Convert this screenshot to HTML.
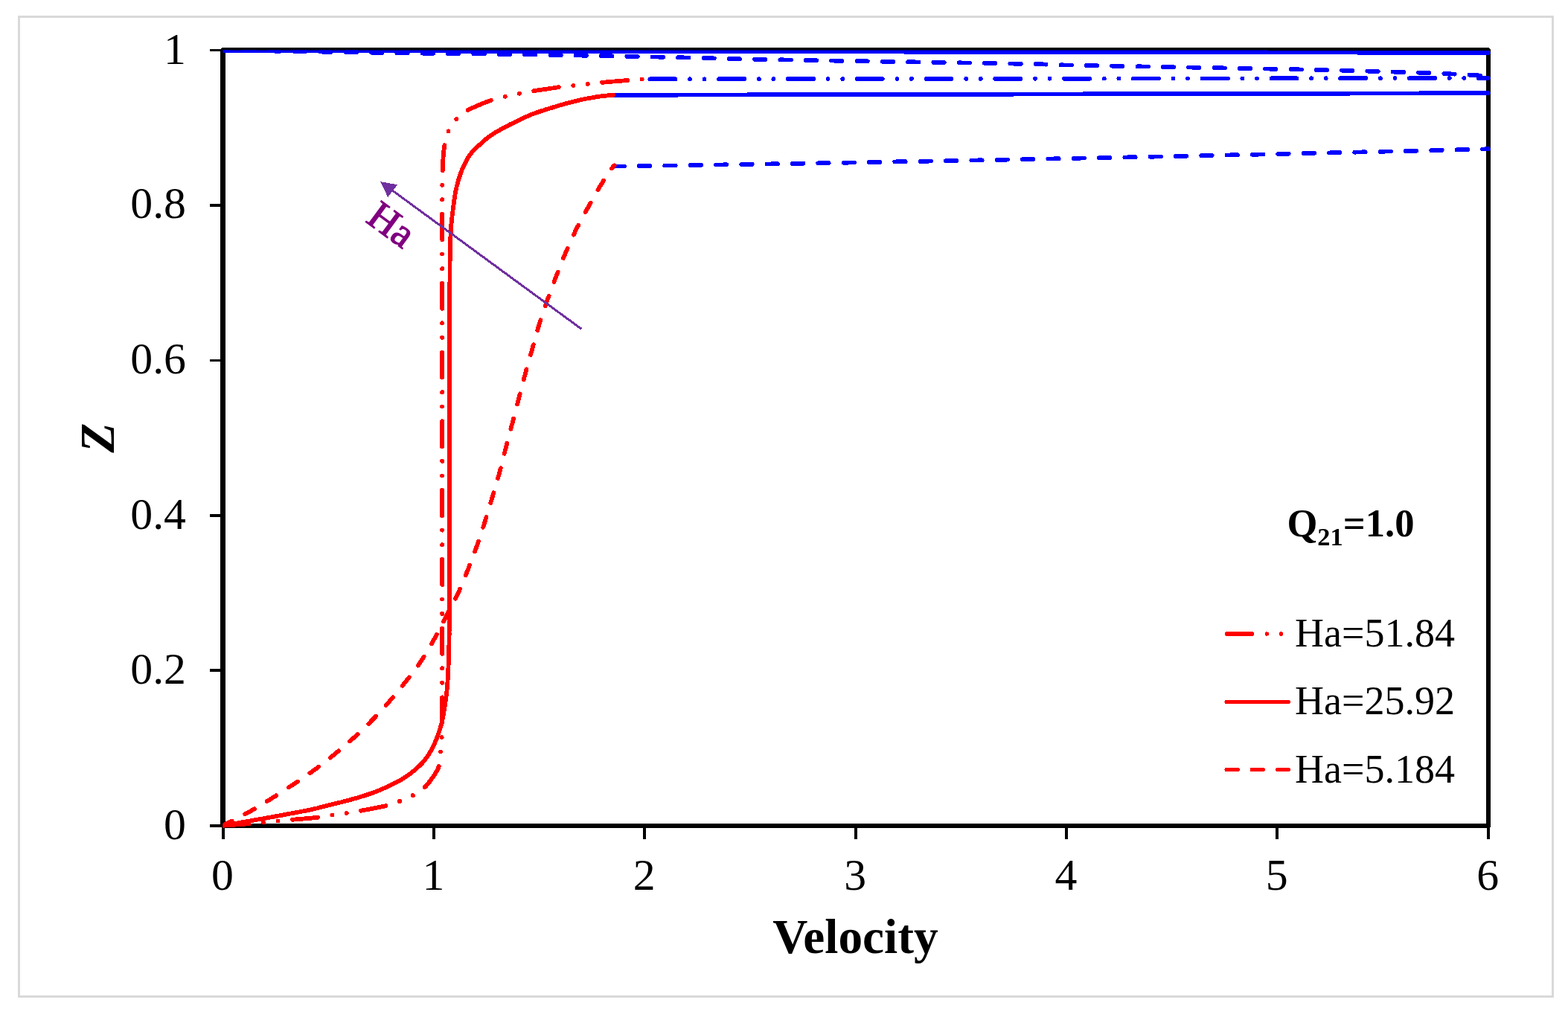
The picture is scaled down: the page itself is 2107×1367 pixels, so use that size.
<!DOCTYPE html>
<html lang="en"><head><meta charset="utf-8"><title>Velocity profile</title>
<style>html,body{margin:0;padding:0;background:#fff;overflow:hidden}svg{display:block}</style>
</head><body>
<svg width="2107" height="1367" viewBox="0 0 2107 1367" shape-rendering="crispEdges">
<rect x="0" y="0" width="2107" height="1367" fill="#fff"/>
<rect x="25.2" y="22.6" width="2061.4" height="1317" fill="none" stroke="#d9d9d9" stroke-width="3.3"/>
<defs><clipPath id="pc"><rect x="299.6" y="67.5" width="1703.1999999999998" height="1045.3"/></clipPath></defs>
<g stroke="#000" fill="none" stroke-linecap="butt">
<rect x="299.6" y="67.5" width="1700.1999999999998" height="1042.3" stroke-width="6.4" stroke-linejoin="round"/>
<line x1="299.6" y1="1109.8" x2="299.6" y2="1128.0" stroke-width="4.0"/>
<line x1="583.0" y1="1109.8" x2="583.0" y2="1128.0" stroke-width="4.0"/>
<line x1="866.3" y1="1109.8" x2="866.3" y2="1128.0" stroke-width="4.0"/>
<line x1="1149.7" y1="1109.8" x2="1149.7" y2="1128.0" stroke-width="4.0"/>
<line x1="1433.1" y1="1109.8" x2="1433.1" y2="1128.0" stroke-width="4.0"/>
<line x1="1716.4" y1="1109.8" x2="1716.4" y2="1128.0" stroke-width="4.0"/>
<line x1="1999.8" y1="1109.8" x2="1999.8" y2="1128.0" stroke-width="4.0"/>
<line x1="281.8" y1="1109.8" x2="299.6" y2="1109.8" stroke-width="3.8"/>
<line x1="281.8" y1="901.3" x2="299.6" y2="901.3" stroke-width="3.8"/>
<line x1="281.8" y1="692.9" x2="299.6" y2="692.9" stroke-width="3.8"/>
<line x1="281.8" y1="484.4" x2="299.6" y2="484.4" stroke-width="3.8"/>
<line x1="281.8" y1="276.0" x2="299.6" y2="276.0" stroke-width="3.8"/>
<line x1="281.8" y1="67.5" x2="299.6" y2="67.5" stroke-width="3.8"/>
</g>
<g fill="none" stroke-width="5.8" stroke-linecap="round" stroke-linejoin="round" clip-path="url(#pc)">
<path d="M299.6,68.1 L1999.8,70.9" stroke="#0000ff"/>
<path d="M299.6,67.5 L315.6,67.7 L336.7,68.1 L361.9,68.5 L390.1,68.9 L420.2,69.4 L451.0,69.9 L481.5,70.3 L510.6,70.8 L537.1,71.2 L560.0,71.5 L579.6,71.8 L597.3,72.0 L613.4,72.2 L628.3,72.3 L642.4,72.5 L656.0,72.6 L669.6,72.8 L683.4,73.0 L697.9,73.2 L713.5,73.4 L729.9,73.7 L746.8,74.0 L764.0,74.3 L781.3,74.6 L798.8,74.9 L816.3,75.2 L833.6,75.6 L850.8,75.9 L867.6,76.3 L884.0,76.6 L899.2,76.9 L912.7,77.2 L925.3,77.6 L937.5,77.9 L949.9,78.2 L963.2,78.5 L977.9,78.9 L994.6,79.3 L1014.0,79.7 L1036.6,80.1 L1064.0,80.6 L1096.5,81.2 L1132.7,81.8 L1171.2,82.4 L1210.5,83.1 L1249.5,83.7 L1286.6,84.3 L1320.4,84.9 L1349.7,85.4 L1373.0,85.8 L1389.1,86.1 L1398.9,86.3 L1403.8,86.5 L1405.5,86.6 L1405.4,86.7 L1405.2,86.7 L1406.4,86.8 L1410.5,87.0 L1419.1,87.2 L1433.7,87.5 L1454.8,87.9 L1480.9,88.4 L1511.0,89.0 L1543.9,89.6 L1578.4,90.2 L1613.5,90.8 L1648.0,91.5 L1680.8,92.1 L1710.7,92.7 L1736.6,93.2 L1759.3,93.7 L1780.4,94.2 L1800.0,94.6 L1818.1,95.1 L1835.0,95.5 L1850.8,96.0 L1865.6,96.4 L1879.4,96.8 L1892.5,97.2 L1904.9,97.6 L1916.4,98.0 L1926.6,98.4 L1935.7,98.8 L1943.9,99.1 L1951.2,99.5 L1957.7,99.8 L1963.7,100.2 L1969.1,100.5 L1974.2,100.7 L1979.0,101.0 L1983.3,101.2 L1986.9,101.4 L1989.8,101.6 L1992.2,101.8 L1994.0,102.0 L1995.5,102.1 L1996.8,102.2 L1997.8,102.3 L1998.8,102.4 L1999.8,102.5" stroke="#0000ff" stroke-dasharray="14.4 19.94" stroke-dashoffset="6.6"/>
<path d="M873.3,106.4 L1999.8,105.0" stroke="#0000ff" stroke-dasharray="34.2 19.53 0 19.53 0 19.53"/>
<path d="M824.6,127.8 L1999.8,125.2" stroke="#0000ff"/>
<path d="M824.6,223.6 L838.9,223.4 L856.9,223.1 L878.1,222.8 L901.9,222.5 L927.9,222.1 L955.4,221.7 L984.0,221.2 L1013.1,220.8 L1042.3,220.3 L1071.0,219.8 L1100.0,219.3 L1130.3,218.8 L1161.6,218.2 L1193.8,217.6 L1226.5,217.0 L1259.6,216.4 L1292.7,215.8 L1325.6,215.2 L1358.1,214.5 L1390.0,213.9 L1421.4,213.3 L1452.7,212.6 L1484.0,212.0 L1515.1,211.4 L1546.2,210.7 L1577.2,210.1 L1608.0,209.4 L1638.8,208.7 L1669.5,208.1 L1700.0,207.4 L1731.7,206.7 L1765.4,205.9 L1800.1,205.1 L1835.0,204.3 L1869.3,203.4 L1902.0,202.7 L1932.2,201.9 L1959.2,201.3 L1982.0,200.7 L1999.8,200.3" stroke="#0000ff" stroke-dasharray="14.4 19.94"/>
<path d="M299.6,1109.8 L301.8,1108.6 L304.7,1107.1 L308.2,1105.4 L312.1,1103.4 L316.2,1101.2 L320.5,1099.0 L324.8,1096.7 L329.0,1094.5 L333.0,1092.4 L336.5,1090.4 L339.7,1088.6 L342.8,1086.8 L345.9,1085.0 L348.8,1083.3 L351.6,1081.5 L354.5,1079.8 L357.3,1078.0 L360.1,1076.3 L362.9,1074.5 L365.8,1072.7 L368.7,1070.9 L371.6,1069.0 L374.6,1067.1 L377.5,1065.3 L380.4,1063.4 L383.3,1061.5 L386.2,1059.5 L389.1,1057.6 L392.0,1055.7 L394.9,1053.8 L397.8,1051.9 L400.6,1050.0 L403.5,1048.1 L406.3,1046.2 L409.1,1044.2 L411.9,1042.3 L414.8,1040.4 L417.6,1038.4 L420.3,1036.4 L423.1,1034.4 L425.9,1032.4 L428.6,1030.3 L431.3,1028.2 L434.0,1026.1 L436.8,1024.0 L439.4,1021.9 L442.1,1019.8 L444.8,1017.6 L447.5,1015.5 L450.1,1013.3 L452.7,1011.1 L455.4,1009.0 L458.0,1006.8 L460.6,1004.6 L463.1,1002.4 L465.7,1000.2 L468.3,998.0 L470.8,995.7 L473.4,993.5 L475.9,991.2 L478.4,988.9 L480.9,986.6 L483.4,984.3 L485.9,981.9 L488.4,979.5 L490.9,977.2 L493.3,974.8 L495.8,972.4 L498.2,969.9 L500.6,967.5 L503.0,965.0 L505.3,962.6 L507.7,960.1 L510.0,957.6 L512.3,955.1 L514.6,952.6 L516.9,950.0 L519.2,947.5 L521.4,944.9 L523.7,942.3 L526.0,939.7 L528.2,937.0 L530.5,934.3 L532.7,931.6 L535.0,928.8 L537.2,926.1 L539.4,923.3 L541.6,920.6 L543.7,917.9 L545.8,915.3 L547.8,912.7 L549.9,910.2 L551.8,907.7 L553.8,905.3 L555.7,902.8 L557.6,900.3 L559.5,897.8 L561.3,895.2 L563.2,892.6 L565.1,889.8 L567.0,886.9 L568.9,883.9 L570.8,880.9 L572.7,877.7 L574.6,874.5 L576.5,871.4 L578.3,868.2 L580.1,865.0 L581.9,861.9 L583.6,858.8 L585.3,855.8 L586.9,852.8 L588.4,849.9 L589.9,847.0 L591.5,844.0 L592.9,841.1 L594.4,838.2 L595.9,835.3 L597.4,832.3 L599.0,829.3 L600.6,826.3 L602.2,823.2 L603.9,820.1 L605.5,817.1 L607.2,814.0 L608.8,810.8 L610.4,807.7 L612.0,804.6 L613.6,801.4 L615.1,798.3 L616.6,795.1 L618.0,792.0 L619.4,788.8 L620.7,785.6 L622.0,782.4 L623.4,779.1 L624.7,775.9 L625.9,772.7 L627.2,769.5 L628.5,766.3 L629.8,763.1 L631.0,759.9 L632.3,756.7 L633.5,753.6 L634.7,750.4 L635.9,747.2 L637.1,744.0 L638.3,740.8 L639.4,737.6 L640.6,734.4 L641.7,731.2 L642.9,727.9 L644.0,724.7 L645.1,721.4 L646.2,718.1 L647.2,714.8 L648.3,711.6 L649.3,708.3 L650.4,705.0 L651.4,701.8 L652.4,698.6 L653.4,695.4 L654.4,692.2 L655.4,689.0 L656.3,685.8 L657.3,682.7 L658.2,679.5 L659.2,676.3 L660.1,673.0 L661.1,669.8 L662.1,666.5 L663.1,663.3 L664.0,660.0 L665.0,656.6 L666.0,653.3 L667.0,650.0 L668.0,646.7 L668.9,643.3 L669.9,640.0 L670.8,636.7 L671.7,633.4 L672.6,630.1 L673.4,626.8 L674.3,623.5 L675.1,620.2 L675.9,616.8 L676.8,613.5 L677.6,610.2 L678.4,606.9 L679.3,603.6 L680.2,600.3 L681.0,597.0 L681.9,593.7 L682.8,590.4 L683.6,587.0 L684.5,583.7 L685.4,580.4 L686.3,577.1 L687.1,573.8 L688.0,570.5 L688.9,567.2 L689.7,563.9 L690.6,560.6 L691.4,557.3 L692.3,554.1 L693.1,550.8 L694.0,547.5 L694.9,544.2 L695.7,540.8 L696.6,537.5 L697.5,534.1 L698.4,530.8 L699.2,527.3 L700.1,523.9 L701.0,520.5 L701.9,517.1 L702.8,513.7 L703.7,510.3 L704.6,506.9 L705.5,503.6 L706.4,500.3 L707.3,497.0 L708.2,493.8 L709.1,490.6 L710.0,487.4 L710.9,484.2 L711.9,481.0 L712.8,477.8 L713.7,474.5 L714.6,471.3 L715.5,468.0 L716.4,464.8 L717.3,461.5 L718.2,458.2 L719.1,454.9 L720.0,451.6 L720.9,448.3 L721.9,445.0 L722.8,441.8 L723.8,438.5 L724.8,435.2 L725.8,432.0 L726.9,428.8 L727.9,425.5 L729.0,422.3 L730.1,419.1 L731.2,415.9 L732.3,412.7 L733.4,409.4 L734.5,406.2 L735.6,403.0 L736.8,399.7 L738.0,396.5 L739.1,393.3 L740.3,390.0 L741.5,386.8 L742.7,383.6 L744.0,380.3 L745.2,377.1 L746.4,373.9 L747.6,370.7 L748.9,367.5 L750.1,364.3 L751.3,361.1 L752.6,357.9 L753.8,354.7 L755.1,351.6 L756.4,348.4 L757.7,345.2 L759.0,342.1 L760.3,339.0 L761.7,335.8 L763.0,332.7 L764.4,329.6 L765.8,326.4 L767.2,323.3 L768.6,320.2 L770.1,317.1 L771.5,314.1 L773.0,311.0 L774.5,308.0 L776.0,304.9 L777.6,302.0 L779.2,299.0 L780.8,296.0 L782.4,293.0 L784.0,290.1 L785.6,287.1 L787.2,284.1 L788.9,281.1 L790.6,278.1 L792.3,275.0 L794.0,271.9 L795.7,268.7 L797.5,265.6 L799.2,262.5 L801.0,259.5 L802.7,256.5 L804.4,253.6 L806.1,250.8 L807.8,248.0 L809.6,245.2 L811.4,242.3 L813.2,239.5 L815.0,236.8 L816.7,234.3 L818.3,231.9 L819.8,229.7 L821.1,227.8 L822.2,226.2 L823.1,225.0 L823.7,224.1 L824.2,223.4 L824.6,223.0 L824.9,222.8 L825.0,222.7 L825.2,222.7 L825.3,222.7 L825.4,222.6 L825.5,222.5" stroke="#ff0000" stroke-dasharray="14.4 19.94" stroke-dashoffset="0.8"/>
<path d="M299.6,1109.8 L302.9,1109.2 L307.2,1108.5 L312.2,1107.6 L317.9,1106.6 L324.0,1105.5 L330.4,1104.4 L336.8,1103.3 L343.1,1102.1 L349.0,1101.1 L354.5,1100.1 L359.8,1099.2 L365.1,1098.2 L370.5,1097.2 L375.9,1096.2 L381.1,1095.3 L386.2,1094.3 L391.0,1093.4 L395.4,1092.6 L399.5,1091.9 L403.0,1091.2 L405.9,1090.6 L408.3,1090.2 L410.2,1089.8 L411.8,1089.6 L413.1,1089.3 L414.3,1089.1 L415.5,1088.8 L416.7,1088.5 L418.2,1088.2 L420.0,1087.8 L422.0,1087.3 L424.2,1086.8 L426.4,1086.3 L428.7,1085.7 L431.0,1085.1 L433.4,1084.5 L435.8,1083.9 L438.1,1083.3 L440.5,1082.7 L442.8,1082.1 L445.1,1081.5 L447.4,1081.0 L449.6,1080.4 L451.9,1079.9 L454.2,1079.3 L456.5,1078.7 L458.8,1078.2 L461.0,1077.6 L463.3,1077.0 L465.6,1076.4 L467.9,1075.8 L470.2,1075.2 L472.5,1074.5 L474.8,1073.9 L477.1,1073.3 L479.3,1072.6 L481.6,1071.9 L483.9,1071.2 L486.2,1070.5 L488.5,1069.8 L490.8,1069.1 L493.1,1068.3 L495.3,1067.5 L497.6,1066.8 L499.9,1066.0 L502.2,1065.2 L504.5,1064.3 L506.7,1063.4 L509.0,1062.5 L511.3,1061.6 L513.6,1060.6 L516.0,1059.5 L518.5,1058.4 L521.0,1057.2 L523.4,1056.1 L525.8,1054.9 L528.1,1053.8 L530.3,1052.7 L532.3,1051.6 L534.1,1050.7 L535.7,1049.9 L537.1,1049.1 L538.4,1048.4 L539.5,1047.8 L540.5,1047.2 L541.5,1046.6 L542.4,1045.9 L543.4,1045.3 L544.4,1044.6 L545.5,1043.9 L546.6,1043.1 L547.8,1042.3 L548.9,1041.5 L550.1,1040.7 L551.2,1039.9 L552.3,1039.0 L553.5,1038.1 L554.6,1037.2 L555.8,1036.3 L556.9,1035.3 L558.1,1034.3 L559.3,1033.3 L560.5,1032.2 L561.7,1031.1 L562.9,1030.0 L564.1,1028.9 L565.2,1027.8 L566.3,1026.7 L567.4,1025.6 L568.4,1024.5 L569.3,1023.4 L570.2,1022.3 L571.1,1021.2 L571.9,1020.1 L572.7,1019.0 L573.5,1017.9 L574.2,1016.8 L574.9,1015.7 L575.6,1014.7 L576.3,1013.6 L577.0,1012.6 L577.6,1011.5 L578.2,1010.5 L578.8,1009.5 L579.4,1008.5 L580.0,1007.5 L580.5,1006.5 L581.1,1005.4 L581.6,1004.4 L582.1,1003.4 L582.6,1002.4 L583.1,1001.3 L583.6,1000.3 L584.0,999.2 L584.5,998.2 L584.9,997.1 L585.4,996.1 L585.8,995.1 L586.2,994.0 L586.6,993.0 L587.0,992.0 L587.4,991.0 L587.8,990.0 L588.1,989.0 L588.5,988.1 L588.8,987.1 L589.2,986.1 L589.5,985.1 L589.9,984.1 L590.2,983.0 L590.6,981.9 L590.9,980.8 L591.3,979.7 L591.6,978.6 L592.0,977.4 L592.3,976.2 L592.6,975.1 L593.0,973.9 L593.3,972.6 L593.6,971.4 L593.9,970.1 L594.2,968.9 L594.5,967.6 L594.7,966.3 L595.0,965.0 L595.3,963.7 L595.5,962.3 L595.8,960.9 L596.0,959.5 L596.3,958.0 L596.6,956.4 L596.8,954.8 L597.1,953.1 L597.3,951.4 L597.6,949.6 L597.8,947.9 L598.1,946.1 L598.3,944.3 L598.6,942.6 L598.8,941.0 L599.0,939.4 L599.2,938.0 L599.5,936.5 L599.7,935.1 L599.9,933.7 L600.1,932.3 L600.3,930.8 L600.4,929.2 L600.6,927.5 L600.8,925.7 L601.0,923.7 L601.1,921.6 L601.3,919.4 L601.4,917.1 L601.6,914.7 L601.7,912.3 L601.8,909.9 L602.0,907.5 L602.1,905.1 L602.2,902.8 L602.3,900.5 L602.4,898.3 L602.5,896.2 L602.6,894.0 L602.7,891.8 L602.8,889.6 L602.9,887.4 L603.0,885.0 L603.0,882.6 L603.1,880.0 L603.2,877.4 L603.2,874.8 L603.3,872.2 L603.3,869.5 L603.4,866.7 L603.4,863.8 L603.5,860.7 L603.5,857.4 L603.6,853.8 L603.6,850.0 L603.7,846.0 L603.7,842.1 L603.8,838.0 L603.8,833.8 L603.9,829.4 L603.9,824.6 L604.0,819.3 L604.0,813.5 L604.1,807.1 L604.1,800.0 L604.1,792.2 L604.1,783.8 L604.1,774.9 L604.1,765.5 L604.1,755.6 L604.1,745.3 L604.1,734.5 L604.1,723.4 L604.1,711.8 L604.1,700.0 L604.1,687.4 L604.1,673.9 L604.1,659.7 L604.1,645.0 L604.1,630.0 L604.1,615.0 L604.1,600.3 L604.1,586.1 L604.1,572.6 L604.1,560.0 L604.1,548.4 L604.1,537.6 L604.1,527.3 L604.1,517.5 L604.1,507.9 L604.1,498.6 L604.1,489.3 L604.1,479.8 L604.1,470.1 L604.1,460.0 L604.1,449.3 L604.2,438.0 L604.2,426.3 L604.2,414.5 L604.3,402.8 L604.3,391.3 L604.4,380.4 L604.5,370.2 L604.5,361.0 L604.6,353.0 L604.7,346.2 L604.8,340.3 L604.9,335.3 L605.0,331.0 L605.1,327.3 L605.2,324.0 L605.3,321.0 L605.4,318.2 L605.6,315.5 L605.7,312.6 L605.8,309.8 L606.0,307.4 L606.1,305.2 L606.3,303.3 L606.4,301.6 L606.6,300.0 L606.7,298.5 L606.9,297.0 L607.0,295.5 L607.2,294.0 L607.3,292.5 L607.5,291.1 L607.6,289.8 L607.8,288.6 L607.9,287.4 L608.1,286.3 L608.2,285.1 L608.4,283.9 L608.5,282.6 L608.7,281.3 L608.9,279.9 L609.1,278.4 L609.3,276.9 L609.5,275.4 L609.7,273.8 L609.9,272.3 L610.1,270.7 L610.3,269.1 L610.6,267.6 L610.8,266.1 L611.0,264.6 L611.3,263.1 L611.5,261.7 L611.8,260.2 L612.0,258.8 L612.3,257.3 L612.6,255.9 L612.8,254.4 L613.2,253.0 L613.5,251.5 L613.9,250.0 L614.3,248.5 L614.7,246.9 L615.1,245.4 L615.5,243.8 L616.0,242.3 L616.4,240.8 L616.9,239.3 L617.3,237.9 L617.8,236.5 L618.2,235.2 L618.7,233.9 L619.1,232.7 L619.6,231.5 L620.1,230.3 L620.5,229.1 L621.0,228.0 L621.5,226.8 L622.0,225.7 L622.5,224.5 L623.0,223.3 L623.6,222.2 L624.1,221.0 L624.6,219.8 L625.2,218.7 L625.8,217.5 L626.3,216.4 L627.0,215.3 L627.6,214.1 L628.3,213.0 L629.0,211.9 L629.7,210.7 L630.5,209.6 L631.3,208.5 L632.1,207.4 L632.9,206.3 L633.8,205.2 L634.7,204.1 L635.6,203.0 L636.5,202.0 L637.5,201.0 L638.4,200.0 L639.5,199.0 L640.5,198.0 L641.6,197.1 L642.7,196.1 L643.8,195.2 L644.8,194.3 L645.9,193.3 L647.0,192.4 L648.0,191.5 L649.0,190.6 L650.0,189.7 L651.0,188.8 L652.0,187.9 L653.0,187.0 L654.1,186.1 L655.3,185.2 L656.5,184.3 L657.8,183.3 L659.2,182.3 L660.8,181.3 L662.4,180.2 L664.1,179.2 L665.8,178.1 L667.5,177.0 L669.3,176.0 L671.1,175.0 L672.8,174.0 L674.5,173.0 L676.1,172.1 L677.8,171.2 L679.3,170.4 L680.9,169.6 L682.5,168.8 L684.1,168.0 L685.8,167.1 L687.6,166.3 L689.4,165.4 L691.3,164.5 L693.3,163.5 L695.5,162.5 L697.7,161.4 L700.0,160.3 L702.3,159.2 L704.7,158.0 L707.1,156.9 L709.4,155.9 L711.8,154.9 L714.1,153.9 L716.4,153.0 L718.7,152.2 L720.9,151.3 L723.2,150.6 L725.5,149.8 L727.8,149.1 L730.1,148.4 L732.3,147.6 L734.6,146.9 L736.9,146.2 L739.2,145.5 L741.5,144.8 L743.8,144.1 L746.1,143.4 L748.3,142.7 L750.6,142.0 L752.9,141.3 L755.2,140.7 L757.5,140.0 L759.8,139.4 L762.1,138.8 L764.4,138.2 L766.6,137.6 L768.9,137.0 L771.2,136.4 L773.5,135.8 L775.8,135.3 L778.0,134.7 L780.3,134.2 L782.6,133.7 L784.9,133.2 L787.2,132.8 L789.6,132.3 L791.9,131.9 L794.2,131.5 L796.6,131.1 L798.8,130.7 L801.1,130.3 L803.3,130.0 L805.4,129.7 L807.5,129.4 L809.7,129.1 L812.0,128.9 L814.1,128.7 L816.3,128.4 L818.3,128.3 L820.1,128.1 L821.8,127.9 L823.2,127.8 L824.3,127.7" stroke="#ff0000"/>
<path d="M299.6,1109.8 L303.0,1109.5 L307.5,1109.2 L312.9,1108.8 L319.0,1108.4 L325.4,1107.9 L332.0,1107.4 L338.3,1106.9 L344.2,1106.5 L349.5,1106.0 L353.7,1105.7 L357.1,1105.4 L359.8,1105.1 L362.1,1104.9 L364.0,1104.7 L365.7,1104.5 L367.1,1104.3 L368.5,1104.1 L369.9,1104.0 L371.4,1103.8 L373.1,1103.6 L374.9,1103.4 L376.4,1103.3 L377.9,1103.1 L379.4,1103.0 L380.8,1102.9 L382.4,1102.8 L384.1,1102.6 L386.1,1102.4 L388.3,1102.2 L390.9,1102.0 L394.0,1101.7 L397.6,1101.4 L401.5,1101.1 L405.7,1100.7 L410.1,1100.3 L414.4,1099.9 L418.6,1099.6 L422.5,1099.2 L426.1,1098.8 L429.1,1098.5 L431.6,1098.2 L433.8,1097.9 L435.6,1097.6 L437.2,1097.3 L438.6,1097.1 L440.0,1096.8 L441.3,1096.5 L442.7,1096.2 L444.2,1096.0 L445.9,1095.7 L447.8,1095.4 L449.7,1095.2 L451.8,1094.9 L453.8,1094.6 L455.9,1094.4 L458.0,1094.1 L460.0,1093.8 L462.0,1093.6 L464.0,1093.3 L465.9,1093.0 L467.6,1092.7 L469.1,1092.5 L470.5,1092.3 L471.9,1092.1 L473.2,1091.8 L474.7,1091.6 L476.3,1091.3 L478.1,1091.0 L480.3,1090.6 L482.8,1090.1 L485.8,1089.5 L489.3,1088.9 L493.2,1088.2 L497.4,1087.4 L501.6,1086.6 L505.9,1085.8 L510.0,1084.9 L513.9,1084.1 L517.4,1083.4 L520.4,1082.7 L522.9,1082.1 L525.0,1081.5 L526.9,1080.9 L528.4,1080.4 L529.9,1079.9 L531.2,1079.4 L532.5,1078.8 L533.8,1078.3 L535.3,1077.7 L536.9,1077.0 L538.7,1076.3 L540.5,1075.6 L542.3,1074.9 L544.2,1074.1 L546.0,1073.3 L547.9,1072.5 L549.7,1071.7 L551.6,1070.9 L553.3,1070.0 L555.0,1069.1 L556.6,1068.2 L558.3,1067.2 L559.9,1066.3 L561.5,1065.3 L563.0,1064.2 L564.5,1063.2 L566.0,1062.2 L567.4,1061.1 L568.7,1060.0 L570.0,1058.9 L571.2,1057.8 L572.4,1056.6 L573.5,1055.4 L574.6,1054.1 L575.6,1052.9 L576.5,1051.6 L577.5,1050.4 L578.3,1049.2 L579.2,1048.1 L580.0,1047.0 L580.8,1046.0 L581.5,1045.0 L582.2,1044.1 L582.8,1043.2 L583.4,1042.4 L583.9,1041.5 L584.5,1040.7 L585.0,1039.8 L585.5,1038.9 L586.0,1038.0 L586.5,1037.1 L587.0,1036.2 L587.4,1035.4 L587.9,1034.6 L588.3,1033.7 L588.7,1032.8 L589.1,1031.8 L589.4,1030.8 L589.8,1029.6 L590.1,1028.3 L590.4,1026.8 L590.6,1025.2 L590.9,1023.5 L591.1,1021.7 L591.3,1019.9 L591.4,1017.9 L591.6,1016.0 L591.8,1014.0 L591.9,1012.1 L592.1,1010.2 L592.3,1008.3 L592.5,1006.4 L592.6,1004.4 L592.8,1002.4 L593.0,1000.5 L593.2,998.5 L593.3,996.5 L593.5,994.5 L593.6,992.6 L593.7,990.7 L593.8,988.9 L593.9,987.3 L593.9,985.8 L594.0,984.3 L594.0,982.8 L594.0,981.2 L594.0,979.4 L594.1,977.5 L594.1,975.2 L594.1,972.6 L594.1,970.0 L594.1,967.8 L594.1,965.7 L594.1,963.5 L594.1,960.9 L594.1,957.8 L594.1,953.8 L594.1,948.8 L594.1,942.5 L594.1,934.7 L594.1,925.4 L594.1,915.0 L594.1,903.5 L594.1,890.9 L594.1,877.5 L594.1,863.2 L594.1,848.3 L594.1,832.7 L594.1,816.6 L594.1,800.0 L594.1,782.6 L594.1,764.2 L594.1,744.8 L594.1,724.7 L594.1,704.1 L594.1,683.1 L594.1,662.1 L594.1,641.0 L594.1,620.3 L594.1,600.0 L594.1,579.7 L594.1,558.9 L594.1,537.8 L594.1,516.6 L594.1,495.6 L594.1,475.0 L594.1,454.9 L594.1,435.5 L594.1,417.2 L594.1,400.0 L594.1,383.7 L594.1,367.8 L594.1,352.4 L594.1,337.8 L594.1,323.8 L594.1,310.8 L594.1,298.8 L594.1,287.9 L594.1,278.3 L594.1,270.0 L594.1,263.4 L594.1,258.7 L594.1,255.4 L594.2,253.3 L594.2,252.2 L594.2,251.5 L594.2,251.2 L594.3,250.7 L594.3,250.0 L594.3,248.5 L594.3,246.7 L594.3,244.9 L594.4,243.2 L594.4,241.6 L594.4,240.0 L594.4,238.5 L594.5,236.9 L594.5,235.3 L594.5,233.7 L594.6,232.0 L594.7,230.3 L594.7,228.5 L594.8,226.8 L594.8,225.0 L594.9,223.2 L595.0,221.4 L595.0,219.6 L595.1,217.7 L595.3,215.9 L595.4,214.0 L595.5,212.1 L595.7,210.1 L595.9,208.2 L596.0,206.2 L596.2,204.2 L596.4,202.2 L596.7,200.2 L596.9,198.2 L597.3,196.2 L597.6,194.3 L598.0,192.4 L598.4,190.5 L598.8,188.6 L599.2,186.7 L599.7,184.9 L600.2,183.0 L600.7,181.2 L601.4,179.4 L602.0,177.6 L602.8,175.9 L603.6,174.2 L604.5,172.5 L605.5,170.8 L606.5,169.2 L607.5,167.5 L608.6,165.9 L609.7,164.4 L610.9,162.9 L612.1,161.4 L613.4,160.0 L614.6,158.7 L615.8,157.4 L617.0,156.2 L618.1,155.1 L619.4,154.0 L620.8,152.9 L622.3,151.8 L624.0,150.7 L625.9,149.5 L628.1,148.3 L630.7,147.0 L633.7,145.5 L636.9,144.1 L640.4,142.5 L644.0,141.0 L647.6,139.5 L651.2,138.1 L654.5,136.8 L657.6,135.6 L660.4,134.6 L662.8,133.7 L665.0,133.0 L666.9,132.5 L668.7,132.0 L670.4,131.5 L672.1,131.2 L673.7,130.8 L675.4,130.5 L677.1,130.1 L678.9,129.7 L680.8,129.3 L682.7,128.8 L684.7,128.4 L686.7,128.0 L688.6,127.6 L690.6,127.2 L692.6,126.8 L694.6,126.5 L696.5,126.1 L698.5,125.7 L700.4,125.3 L702.2,125.0 L703.9,124.6 L705.6,124.3 L707.4,124.0 L709.2,123.6 L711.1,123.3 L713.2,122.9 L715.5,122.5 L718.1,122.1 L721.0,121.6 L724.3,121.1 L727.8,120.6 L731.5,120.0 L735.3,119.5 L739.1,118.9 L742.8,118.4 L746.3,117.9 L749.5,117.4 L752.4,117.0 L754.9,116.7 L757.1,116.4 L759.1,116.1 L761.0,115.9 L762.7,115.8 L764.3,115.6 L765.9,115.4 L767.5,115.3 L769.3,115.1 L771.1,114.9 L773.0,114.7 L775.0,114.5 L777.0,114.3 L778.9,114.1 L780.9,113.8 L782.9,113.6 L784.9,113.4 L786.9,113.2 L788.9,113.0 L790.8,112.8 L792.7,112.6 L794.4,112.4 L796.1,112.2 L797.7,112.0 L799.4,111.8 L801.1,111.7 L803.0,111.5 L805.0,111.3 L807.3,111.0 L809.8,110.8 L812.7,110.5 L815.9,110.3 L819.5,109.9 L823.2,109.6 L827.0,109.3 L830.8,109.0 L834.6,108.7 L838.1,108.4 L841.4,108.1 L844.3,107.9 L846.9,107.7 L849.5,107.5 L851.8,107.3 L854.1,107.2 L856.1,107.0 L858.0,106.9 L859.8,106.8 L861.3,106.7 L862.7,106.6 L863.9,106.5 L864.8,106.4 L865.5,106.4 L865.9,106.4 L866.1,106.4 L866.2,106.4 L866.2,106.4 L866.1,106.4 L866.0,106.4 L866.0,106.4 L866.0,106.4" stroke="#ff0000" stroke-dasharray="34.2 19.53 0 19.53 0 19.53" stroke-dashoffset="-1"/>
</g>
<line x1="781.3" y1="442.2" x2="524" y2="253.6" stroke="#7030a0" stroke-width="3.0"/>
<polygon points="511.3,244.2 534.1,248.3 521.2,265.1" fill="#7030a0"/>
<g fill="none" stroke="#ff0000" stroke-width="5.4" stroke-linecap="round">
<path d="M1648.2,852.0 L1731.3,852.0" stroke-dasharray="34.6 19.4 0 19.4 0 19.4"/>
<path d="M1648.2,943.5 L1731.3,943.5"/>
<path d="M1648.2,1034.5 L1731.3,1034.5" stroke-dasharray="14.8 19.54"/>
</g>
<g font-family="'Liberation Serif', serif" font-size="59.8" fill="#000">
<text x="299.0" y="1196.4" text-anchor="middle">0</text>
<text x="582.4" y="1196.4" text-anchor="middle">1</text>
<text x="865.7" y="1196.4" text-anchor="middle">2</text>
<text x="1149.1" y="1196.4" text-anchor="middle">3</text>
<text x="1432.5" y="1196.4" text-anchor="middle">4</text>
<text x="1715.8" y="1196.4" text-anchor="middle">5</text>
<text x="1999.2" y="1196.4" text-anchor="middle">6</text>
<text x="250" y="1127.8" text-anchor="end">0</text>
<text x="250" y="919.3" text-anchor="end">0.2</text>
<text x="250" y="710.5" text-anchor="end">0.4</text>
<text x="250" y="501.8" text-anchor="end">0.6</text>
<text x="250" y="293.0" text-anchor="end">0.8</text>
<text x="250" y="86.1" text-anchor="end">1</text>
</g>
<g font-family="'Liberation Serif', serif" font-size="54" fill="#000">
<text x="1740.1" y="869.2">Ha=51.84</text>
<text x="1740.1" y="960.1">Ha=25.92</text>
<text x="1740.1" y="1052.1">Ha=5.184</text>
</g>
<text font-family="'Liberation Serif', serif" font-size="65.3" font-weight="bold" x="1149.4" y="1281.4" text-anchor="middle">Velocity</text>
<text font-family="'Liberation Serif', serif" font-size="65.3" font-weight="bold" font-style="italic" transform="translate(153,588.5) rotate(-90)" text-anchor="middle">Z</text>
<text font-family="'Liberation Serif', serif" font-size="52" font-weight="bold" transform="translate(1729.4,721) scale(1.012,1)">Q<tspan font-size="34" dy="11.8">21</tspan><tspan dy="-11.8">=1.0</tspan></text>
<text font-family="'Liberation Serif', serif" font-size="54.5" fill="#800080" stroke="#800080" stroke-width="1.2" transform="translate(490,297.5) rotate(36.3)">Ha</text>
</svg>
</body></html>
